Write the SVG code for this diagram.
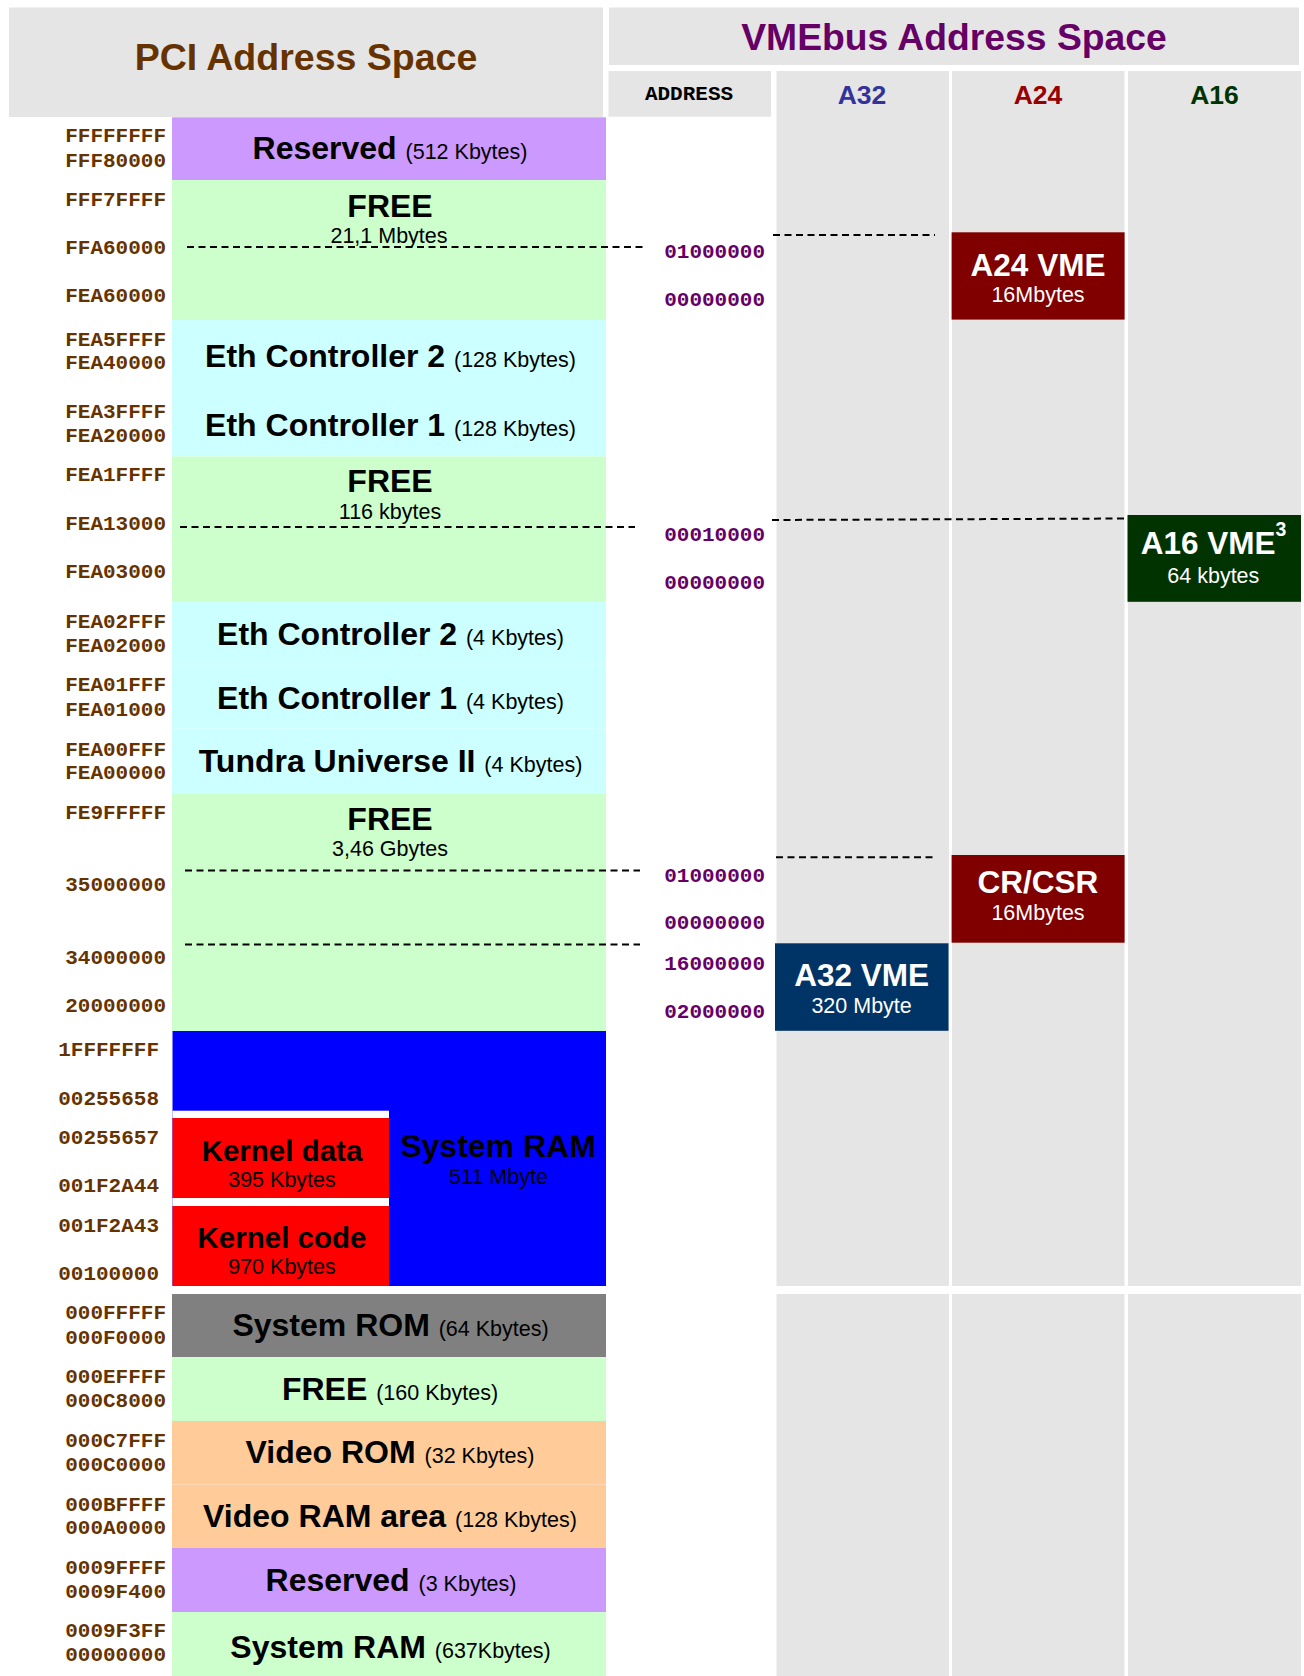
<svg xmlns="http://www.w3.org/2000/svg" width="1304" height="1676" viewBox="0 0 1304 1676">
<defs>
<style>
.bg{fill:#E5E5E5}
.res{fill:#CC99FF}
.free{fill:#CCFFCC}
.cyan{fill:#CCFFFF}
.blue{fill:#0000FF}
.red{fill:#FF0000}
.rom{fill:#808080}
.org{fill:#FFCC99}
.addr{font-family:"Liberation Mono","Courier New",monospace;font-weight:bold;font-size:21px;fill:#663300;text-anchor:end}
.vaddr{font-family:"Liberation Mono","Courier New",monospace;font-weight:bold;font-size:21px;fill:#660066;text-anchor:end}
.t{font-family:"Liberation Sans",Arial,sans-serif;text-anchor:middle;fill:#000}
.b{font-weight:bold;font-size:32px}
.s{font-weight:normal;font-size:21.5px}
.vb{font-weight:bold;font-size:31.5px}
.w{fill:#FFFFFF}
.dash{stroke:#000;stroke-width:2;stroke-dasharray:7 4.5;fill:none}
</style>
</defs>
<rect width="1304" height="1676" fill="#FFFFFF"/>

<g id="pci-header">
<rect class="bg" x="9" y="7.5" width="594" height="109.5"/>
<text class="t" x="306" y="69.5" font-size="37.5" font-weight="bold" style="fill:#663300">PCI Address Space</text>
</g>

<g id="vme-header">
<rect class="bg" x="609" y="7.5" width="690" height="57.5"/>
<text class="t" x="954" y="50" font-size="37.3" font-weight="bold" style="fill:#660066">VMEbus Address Space</text>
</g>

<g id="col-address">
<rect class="bg" x="608.5" y="71" width="162.5" height="45.7"/>
<text x="689" y="100" font-family="'Liberation Mono','Courier New',monospace" font-weight="bold" font-size="21" text-anchor="middle" fill="#000">ADDRESS</text>
</g>
<g id="col-a32">
<rect class="bg" x="776.5" y="71" width="172.5" height="1215"/>
<rect class="bg" x="776.5" y="1294" width="172.5" height="382"/>
<text class="t" x="862" y="104" font-size="26.5" font-weight="bold" style="fill:#333399">A32</text>
</g>
<g id="col-a24">
<rect class="bg" x="952" y="71" width="172.5" height="1215"/>
<rect class="bg" x="952" y="1294" width="172.5" height="382"/>
<text class="t" x="1038" y="104" font-size="26.5" font-weight="bold" style="fill:#990000">A24</text>
</g>
<g id="col-a16">
<rect class="bg" x="1128" y="71" width="173" height="1215"/>
<rect class="bg" x="1128" y="1294" width="173" height="382"/>
<text class="t" x="1214.5" y="104" font-size="26.5" font-weight="bold" style="fill:#003300">A16</text>
</g>

<g id="pci-reserved-512k">
<rect class="res" x="172" y="117.3" width="434" height="62.7"/>
<text class="t" x="390" y="159.3"><tspan class="b">Reserved </tspan><tspan class="s">(512 Kbytes)</tspan></text>
</g>
<g id="pci-free-21m">
<rect class="free" x="172" y="180" width="434" height="140"/>
<text class="t b" x="390" y="217.3">FREE</text>
<text class="t s" x="389" y="243">21,1 Mbytes</text>
</g>
<g id="pci-eth2-128k">
<rect class="cyan" x="172" y="320" width="434" height="68"/>
<text class="t" x="390.5" y="367.3"><tspan class="b">Eth Controller 2 </tspan><tspan class="s">(128 Kbytes)</tspan></text>
</g>
<g id="pci-eth1-128k">
<rect class="cyan" x="172" y="388" width="434" height="68.4"/>
<text class="t" x="390.5" y="435.7"><tspan class="b">Eth Controller 1 </tspan><tspan class="s">(128 Kbytes)</tspan></text>
</g>
<g id="pci-free-116k">
<rect class="free" x="172" y="456.4" width="434" height="145.4"/>
<text class="t b" x="390" y="492">FREE</text>
<text class="t s" x="390" y="519">116 kbytes</text>
</g>
<g id="pci-eth2-4k">
<rect class="cyan" x="172" y="601.8" width="434" height="63"/>
<text class="t" x="390.5" y="645"><tspan class="b">Eth Controller 2 </tspan><tspan class="s">(4 Kbytes)</tspan></text>
</g>
<g id="pci-eth1-4k">
<rect class="cyan" x="172" y="664.8" width="434" height="63.7"/>
<text class="t" x="390.5" y="709"><tspan class="b">Eth Controller 1 </tspan><tspan class="s">(4 Kbytes)</tspan></text>
</g>
<g id="pci-tundra">
<rect class="cyan" x="172" y="728.5" width="434" height="64.8"/>
<text class="t" x="390.5" y="772.3"><tspan class="b">Tundra Universe II </tspan><tspan class="s">(4 Kbytes)</tspan></text>
</g>
<g id="pci-free-346g">
<rect class="free" x="172" y="793.3" width="434" height="237.9"/>
<text class="t b" x="390" y="830">FREE</text>
<text class="t s" x="390" y="856">3,46 Gbytes</text>
</g>
<g id="pci-system-ram-511m">
<rect class="blue" x="172.5" y="1031" width="433.5" height="255"/>
<text class="t b" x="498" y="1157.3">System RAM</text>
<text class="t s" x="498.5" y="1184">511 Mbyte</text>
</g>
<g id="pci-kernel-data">
<rect fill="#FFFFFF" x="172.5" y="1110.7" width="216.5" height="7.3"/>
<rect class="red" x="172.5" y="1118" width="216.5" height="80"/>
<text class="t" x="282" y="1160.7" font-size="29.5" font-weight="bold">Kernel data</text>
<text class="t s" x="282" y="1186.7">395 Kbytes</text>
</g>
<g id="pci-kernel-code">
<rect fill="#FFFFFF" x="172.5" y="1198" width="216.5" height="8"/>
<rect class="red" x="172.5" y="1206" width="216.5" height="80"/>
<text class="t" x="282" y="1248.3" font-size="29.5" font-weight="bold">Kernel code</text>
<text class="t s" x="282" y="1274">970 Kbytes</text>
</g>
<g id="pci-system-rom">
<rect class="rom" x="172" y="1294" width="434" height="63"/>
<text class="t" x="390.5" y="1336"><tspan class="b">System ROM </tspan><tspan class="s">(64 Kbytes)</tspan></text>
</g>
<g id="pci-free-160k">
<rect class="free" x="172" y="1357" width="434" height="64"/>
<text class="t" x="390" y="1400"><tspan class="b">FREE </tspan><tspan class="s">(160 Kbytes)</tspan></text>
</g>
<g id="pci-video-rom">
<rect class="org" x="172" y="1421" width="434" height="63.5"/>
<text class="t" x="390" y="1463.3"><tspan class="b">Video ROM </tspan><tspan class="s">(32 Kbytes)</tspan></text>
</g>
<g id="pci-video-ram">
<rect class="org" x="172" y="1484.5" width="434" height="63.5"/>
<text class="t" x="390" y="1527.3"><tspan class="b">Video RAM area </tspan><tspan class="s">(128 Kbytes)</tspan></text>
</g>
<g id="pci-reserved-3k">
<rect class="res" x="172" y="1548" width="434" height="64"/>
<text class="t" x="391" y="1590.7"><tspan class="b">Reserved </tspan><tspan class="s">(3 Kbytes)</tspan></text>
</g>
<g id="pci-system-ram-637k">
<rect class="free" x="172" y="1612" width="434" height="64"/>
<text class="t" x="390.5" y="1658.3"><tspan class="b">System RAM </tspan><tspan class="s">(637Kbytes)</tspan></text>
</g>

<g id="pci-addresses">
<text class="addr" x="166" y="141.5">FFFFFFFF</text>
<text class="addr" x="166" y="166.5">FFF80000</text>
<text class="addr" x="166" y="206">FFF7FFFF</text>
<text class="addr" x="166" y="254">FFA60000</text>
<text class="addr" x="166" y="302.3">FEA60000</text>
<text class="addr" x="166" y="346">FEA5FFFF</text>
<text class="addr" x="166" y="369.3">FEA40000</text>
<text class="addr" x="166" y="418">FEA3FFFF</text>
<text class="addr" x="166" y="441.7">FEA20000</text>
<text class="addr" x="166" y="481">FEA1FFFF</text>
<text class="addr" x="166" y="530">FEA13000</text>
<text class="addr" x="166" y="577.7">FEA03000</text>
<text class="addr" x="166" y="628.3">FEA02FFF</text>
<text class="addr" x="166" y="651.7">FEA02000</text>
<text class="addr" x="166" y="691">FEA01FFF</text>
<text class="addr" x="166" y="716">FEA01000</text>
<text class="addr" x="166" y="755.7">FEA00FFF</text>
<text class="addr" x="166" y="779">FEA00000</text>
<text class="addr" x="166" y="819">FE9FFFFF</text>
<text class="addr" x="166" y="891">35000000</text>
<text class="addr" x="166" y="964">34000000</text>
<text class="addr" x="166" y="1011.7">20000000</text>
<text class="addr" x="159" y="1056">1FFFFFFF</text>
<text class="addr" x="159" y="1105">00255658</text>
<text class="addr" x="159" y="1144.3">00255657</text>
<text class="addr" x="159" y="1191.7">001F2A44</text>
<text class="addr" x="159" y="1232.3">001F2A43</text>
<text class="addr" x="159" y="1280">00100000</text>
<text class="addr" x="166" y="1319.3">000FFFFF</text>
<text class="addr" x="166" y="1344">000F0000</text>
<text class="addr" x="166" y="1383.3">000EFFFF</text>
<text class="addr" x="166" y="1406.7">000C8000</text>
<text class="addr" x="166" y="1447.3">000C7FFF</text>
<text class="addr" x="166" y="1470.7">000C0000</text>
<text class="addr" x="166" y="1510.7">000BFFFF</text>
<text class="addr" x="166" y="1534">000A0000</text>
<text class="addr" x="166" y="1574">0009FFFF</text>
<text class="addr" x="166" y="1597.7">0009F400</text>
<text class="addr" x="166" y="1637.3">0009F3FF</text>
<text class="addr" x="166" y="1661">00000000</text>
</g>

<g id="vme-addresses">
<text class="vaddr" x="765" y="257.7">01000000</text>
<text class="vaddr" x="765" y="306">00000000</text>
<text class="vaddr" x="765" y="540.7">00010000</text>
<text class="vaddr" x="765" y="589.3">00000000</text>
<text class="vaddr" x="765" y="881.7">01000000</text>
<text class="vaddr" x="765" y="929.3">00000000</text>
<text class="vaddr" x="765" y="970">16000000</text>
<text class="vaddr" x="765" y="1017.7">02000000</text>
</g>

<g id="vme-a24">
<rect fill="#800000" x="951.6" y="232.3" width="173" height="87.3"/>
<text class="t vb w" x="1038" y="275.7">A24 VME</text>
<text class="t s w" x="1038" y="301.7">16Mbytes</text>
</g>
<g id="vme-a16">
<rect fill="#003300" x="1127.5" y="515" width="173.5" height="86.8"/>
<text class="t w" x="1213.5" y="554"><tspan class="vb">A16 VME</tspan><tspan font-size="19.5" font-weight="bold" dy="-18">3</tspan></text>
<text class="t s w" x="1213.3" y="583.3">64 kbytes</text>
</g>
<g id="vme-crcsr">
<rect fill="#800000" x="951.6" y="855" width="173" height="87.7"/>
<text class="t vb w" x="1038" y="892.7">CR/CSR</text>
<text class="t s w" x="1038" y="920">16Mbytes</text>
</g>
<g id="vme-a32">
<rect fill="#003366" x="775" y="943.3" width="173.5" height="87.5"/>
<text class="t vb w" x="861.6" y="985.7">A32 VME</text>
<text class="t s w" x="861.6" y="1012.7">320 Mbyte</text>
</g>

<g id="connectors">
<line class="dash" x1="187" y1="247" x2="643" y2="247"/>
<line class="dash" x1="773" y1="235" x2="935" y2="235"/>
<line class="dash" x1="180" y1="527" x2="635" y2="527"/>
<line class="dash" x1="772" y1="520" x2="1128" y2="518.5"/>
<line class="dash" x1="185" y1="870.5" x2="640" y2="870.5"/>
<line class="dash" x1="776" y1="857.3" x2="937" y2="857.3"/>
<line class="dash" x1="185" y1="944.5" x2="640" y2="944.5"/>
</g>
</svg>
